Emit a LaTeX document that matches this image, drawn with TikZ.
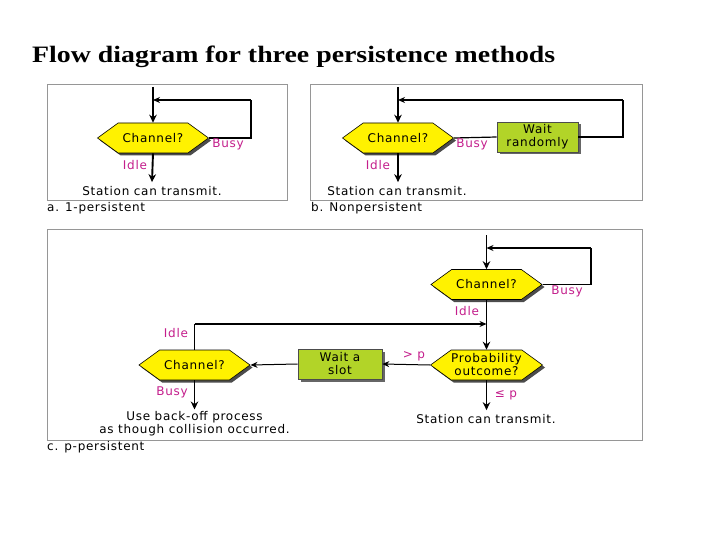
\documentclass[tikz,border=0pt]{standalone}
\usepackage{fontspec}
\usepackage{graphicx}
\usetikzlibrary{shapes.symbols,shadows,arrows.meta}
\setmainfont{Liberation Serif}
\newfontfamily\dfont[LetterSpace=6]{DejaVu Sans}
\definecolor{hexyellow}{RGB}{255,242,0}
\definecolor{wgreen}{RGB}{178,212,40}
\definecolor{lab}{RGB}{196,30,140}
\definecolor{frame}{RGB}{150,150,150}
\newcommand{\dsize}{\dfont\fontsize{12}{13}\selectfont}
\tikzset{
  hex/.style={shape=signal, signal to=west and east, signal pointer angle=72,
    fill=hexyellow, draw=black, line width=0.6pt, inner sep=0pt,
    minimum height=30pt, minimum width=111pt, align=center,
    font=\dsize,
    drop shadow={shadow xshift=2.5pt, shadow yshift=-2.5pt, fill=black!70, opacity=1}},
  wbox/.style={rectangle, fill=wgreen, draw=black!70, line width=0.6pt,
    minimum width=81pt, minimum height=30pt, inner sep=0pt, align=center,
    font=\dsize,
    drop shadow={shadow xshift=2.5pt, shadow yshift=-2.5pt, fill=black!60, opacity=1}},
  lbl/.style={font=\dsize, text=lab, inner sep=0pt},
  txt/.style={font=\dsize, inner sep=0pt, align=center},
  panel/.style={draw=frame, line width=0.8pt},
  plbl/.style={font=\dsize, anchor=west, inner sep=0pt},
  mainarrow/.style={line width=1.9pt, -{Stealth[length=8pt,width=7.5pt]}},
  loopline/.style={line width=1.2pt},
  looparrow/.style={line width=1.2pt, -{Stealth[length=7pt,width=6pt]}},
  greyarrow/.style={line width=1pt, draw=black!65, -{Stealth[length=7pt,width=6pt]}, color=black},
}
\begin{document}
\begin{tikzpicture}[x=1pt,y=-1pt]
\useasboundingbox (0,0) rectangle (720,540);
\fill[white] (0,0) rectangle (720,540);
% title
\node[anchor=base west, inner sep=0pt, font=\bfseries\fontsize{23.5}{26}\selectfont] (title) at (32,63) {\scalebox{1.185}[1]{Flow diagram for three persistence methods}};

% panels
\draw[panel] (47,84) rectangle (287,200);
\draw[panel] (310,84) rectangle (642,200);
\draw[panel] (47,229) rectangle (642,440);
\node[plbl] (la) at (47,208) {a. 1-persistent};
\node[plbl] (lb) at (311,208) {b. Nonpersistent};
\node[plbl] (lc) at (47,447) {c. p-persistent};

% ---- panel a
\node[hex] (a1) at (153,138) {Channel?};
\coordinate (a0) at (153,87);
\coordinate (ar) at (251,138);
\coordinate (au) at (251,100);
\coordinate (aj) at (153,100);
\node[txt] (at) at (152,191) {Station can transmit.};
\draw[mainarrow] (a0) -- (a1.north);
\draw[loopline] (a1.east) -- (ar) -- (au);
\draw[looparrow] (au) -- (aj);
\draw[mainarrow] (a1.south) -- ([yshift=4pt]at.north);
\node[lbl] (abusy) at (228,144.5) {Busy};
\node[lbl] (aidle) at (135,165.5) {Idle};

% ---- panel b
\node[hex] (b1) at (398,138) {Channel?};
\node[wbox] (b2) at (537.5,137) {Wait\\randomly};
\coordinate (b0) at (398,87);
\coordinate (br) at (623,137);
\coordinate (bu) at (623,100);
\coordinate (bj) at (398,100);
\node[txt] (bt) at (397,191) {Station can transmit.};
\draw[mainarrow] (b0) -- (b1.north);
\draw[loopline] (b1.east) -- (b2.west);
\draw[loopline] (b2.east) -- (br) -- (bu);
\draw[looparrow] (bu) -- (bj);
\draw[mainarrow] (b1.south) -- ([yshift=4pt]b1.south |- bt.north);
\node[lbl] (bbusy) at (472,144.5) {Busy};
\node[lbl] (bidle) at (378,165.5) {Idle};

% ---- panel c
\node[hex] (c1) at (486.5,284.5) {Channel?};
\node[hex, minimum width=112pt] (c2) at (486.5,365) {Probability\\outcome?};
\node[hex] (c3) at (194.5,365) {Channel?};
\node[wbox, minimum width=84pt] (c4) at (340,364) {Wait a\\slot};
\coordinate (c0) at (486.5,235);
\coordinate (cr) at (591,284.5);
\coordinate (cu) at (591,248);
\coordinate (cj) at (486.5,248);
\coordinate (ck) at (486.5,324);
\coordinate (cl) at (194.5,324);
\draw[mainarrow] (c0) -- (c1.north);
\draw[loopline] (c1.east) -- (cr) -- (cu);
\draw[looparrow] (cu) -- (cj);
\draw[mainarrow] (c1.south) -- (c2.north);
\draw[loopline] (c3.north) -- (cl);
\draw[looparrow] (cl) -- (ck);
\draw[greyarrow] (c2.west) -- (c4.east);
\draw[greyarrow] (c4.west) -- (c3.east);
\node[txt] (ct) at (486,419) {Station can transmit.};
\node[txt] (cb) at (194.5,424) {Use back-off process\\as though collision occurred.};
\draw[mainarrow] (c2.south) -- ([yshift=4pt]c2.south |- ct.north);
\draw[mainarrow] (c3.south) -- ([yshift=2pt]c3.south |- cb.north);
\node[lbl] (cbusy1) at (567,291) {Busy};
\node[lbl] (cidle1) at (467,311) {Idle};
\node[lbl] (cgt) at (414,356) {> p};
\node[lbl] (cle) at (506,395) {≤ p};
\node[lbl] (cidle2) at (176,333) {Idle};
\node[lbl] (cbusy2) at (172,392) {Busy};
\end{tikzpicture}
\end{document}
